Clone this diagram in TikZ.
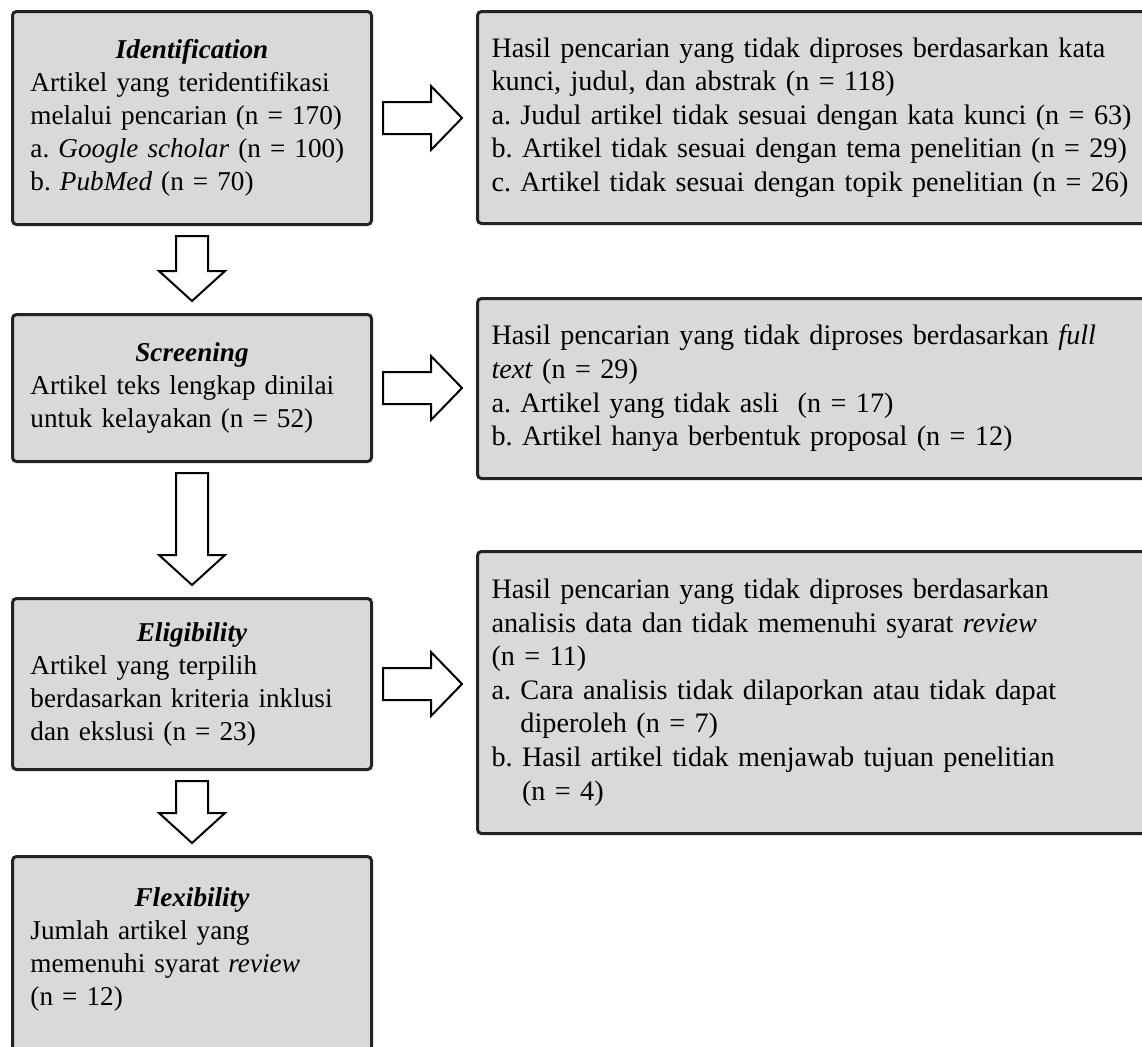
\documentclass[tikz,border=0pt]{standalone}
\usepackage{fontspec}
\setmainfont{Liberation Serif}
\frenchspacing
\usetikzlibrary{calc}
\definecolor{cBoxFill}{RGB}{217, 217, 217}
\definecolor{cBoxLine}{RGB}{35, 35, 35}
\tikzset{
    boxStage/.style={
        draw=cBoxLine,
        fill=cBoxFill,
        line width=1.5pt,
        rounded corners=2pt,
        anchor=north west,
        align=left,
        text width=161.5pt,
        inner xsep=9pt,
        font=\fontsize{13.6}{16.5}\selectfont
    },
    boxExcluded/.style={
        draw=cBoxLine,
        fill=cBoxFill,
        line width=1.5pt,
        rounded corners=2pt,
        anchor=north west,
        align=left,
        text width=350pt,
        inner xsep=7pt,
        font=\fontsize{14.1}{16.8}\selectfont
    },
    blockArrow/.style={
        draw=black,
        fill=white,
        line width=1pt,
        line join=miter
    },
}

\begin{document}
\begin{tikzpicture}[x=0.5pt,y=-0.5pt]
    \useasboundingbox (0,0) rectangle (1142,1046);
    \clip (0,0) rectangle (1142,1046);

    \newcommand{\stagetitle}[1]{{\centering\bfseries\itshape #1\par}}
    \newcommand{\blockdown}[2]{\draw[blockArrow] let \p1=(#1.south), \p2=(#2.north) in
        (\x1-8pt,\y1-5pt) -- (\x1+8pt,\y1-5pt) -- (\x1+8pt,\y2+21pt) -- (\x1+16.5pt,\y2+21pt)
        -- (\x1,\y2+6pt) -- (\x1-16.5pt,\y2+21pt) -- (\x1-8pt,\y2+21pt) -- cycle;}
    \newcommand{\blockright}[2]{\draw[blockArrow] let \p1=(#1.east), \p2=(#2.west) in
        (\x1+5pt,\y1+8pt) -- (\x2-22.5pt,\y1+8pt) -- (\x2-22.5pt,\y1+16pt) -- (\x2-7pt,\y1)
        -- (\x2-22.5pt,\y1-16pt) -- (\x2-22.5pt,\y1-8pt) -- (\x1+5pt,\y1-8pt) -- cycle;}

    % stages
    \node[boxStage, minimum height=106.5pt] (identification) at (11, 10)
        {\stagetitle{Identification}Artikel yang teridentifikasi\\melalui pencarian (n = 170)\\a. \textit{Google scholar} (n = 100)\\b. \textit{PubMed} (n = 70)};
    \node[boxStage, minimum height=73.5pt] (screening) at (11, 313)
        {\stagetitle{Screening}Artikel teks lengkap dinilai\\untuk kelayakan (n = 52)};
    \node[boxStage, minimum height=85.5pt] (eligibility) at (11, 597)
        {\stagetitle{Eligibility}Artikel yang terpilih\\berdasarkan kriteria inklusi\\dan ekslusi (n = 23)};
    \node[boxStage, inner ysep=15.5pt, text depth=72pt] (flexibility) at (11, 855)
        {\stagetitle{Flexibility}Jumlah artikel yang\\memenuhi syarat \textit{review}\\(n = 12)};

    % excluded
    \node[boxExcluded, minimum height=106pt] (excludedId) at (476, 10)
        {Hasil pencarian yang tidak diproses berdasarkan kata\\kunci, judul, dan abstrak (n = 118)\\a. Judul artikel tidak sesuai dengan kata kunci (n = 63)\\b. Artikel tidak sesuai dengan tema penelitian (n = 29)\\c. Artikel tidak sesuai dengan topik penelitian (n = 26)};
    \node[boxExcluded, minimum height=90pt] (excludedScr) at (476, 297)
        {Hasil pencarian yang tidak diproses berdasarkan \textit{full}\\\textit{text} (n = 29)\\a. Artikel yang tidak asli~ (n = 17)\\b. Artikel hanya berbentuk proposal (n = 12)};
    \node[boxExcluded, minimum height=141pt] (excludedElig) at (476, 550)
        {Hasil pencarian yang tidak diproses berdasarkan\\analisis data dan tidak memenuhi syarat \textit{review}\\(n = 11)\\a. Cara analisis tidak dilaporkan atau tidak dapat\\\phantom{a. }diperoleh (n = 7)\\b. Hasil artikel tidak menjawab tujuan penelitian\\\phantom{b. }(n = 4)};

    \blockdown{identification}{screening}
    \blockdown{screening}{eligibility}
    \blockdown{eligibility}{flexibility}

    \blockright{identification}{excludedId}
    \blockright{screening}{excludedScr}
    \blockright{eligibility}{excludedElig}
\end{tikzpicture}
\end{document}
